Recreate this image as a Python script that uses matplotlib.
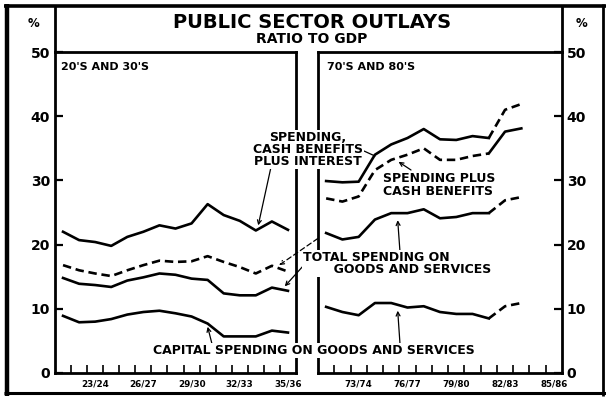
import matplotlib
matplotlib.use('Agg')
import matplotlib.pyplot as plt
from matplotlib.lines import Line2D

plt.rcParams['font.family'] = ['DejaVu Sans']
plt.rcParams['font.weight'] = 'bold'

W, H = 606, 403

# ---------------- data ----------------
left_years = ['21/22', '22/23', '23/24', '24/25', '25/26', '26/27', '27/28', '28/29',
              '29/30', '30/31', '31/32', '32/33', '33/34', '34/35', '35/36']
right_years = ['71/72', '72/73', '73/74', '74/75', '75/76', '76/77', '77/78', '78/79',
               '79/80', '80/81', '81/82', '82/83', '83/84', '84/85', '85/86']
left_tick_labels = ['23/24', '26/27', '29/30', '32/33', '35/36']
right_tick_labels = ['73/74', '76/77', '79/80', '82/83', '85/86']
y_ticks = [0, 10, 20, 30, 40, 50]

# 20's and 30's (% of GDP)
l_spend_cash_int = [22.0, 20.7, 20.4, 19.8, 21.2, 22.0, 23.0, 22.5, 23.3, 26.3, 24.6, 23.7, 22.2, 23.6, 22.3]
l_spend_cash     = [16.8, 16.0, 15.5, 15.1, 16.0, 16.8, 17.5, 17.3, 17.4, 18.2, 17.3, 16.5, 15.5, 16.7, 15.8]
l_total_gs       = [14.8, 13.9, 13.7, 13.4, 14.4, 14.9, 15.5, 15.3, 14.7, 14.5, 12.4, 12.1, 12.1, 13.3, 12.8]
l_capital        = [8.9, 7.9, 8.0, 8.4, 9.1, 9.5, 9.7, 9.3, 8.8, 7.7, 5.7, 5.7, 5.7, 6.6, 6.3]

# 70's and 80's: 71/72 .. 83/84 (last two are projections)
r_spend_cash_int = [29.9, 29.7, 29.8, 34.0, 35.6, 36.6, 38.0, 36.4, 36.3, 36.9, 36.6, 41.0, 41.9]
r_spend_cash     = [27.2, 26.7, 27.5, 31.6, 33.2, 34.0, 35.0, 33.2, 33.2, 33.8, 34.2, 37.6, 38.1]
r_total_gs       = [21.8, 20.8, 21.2, 23.9, 24.9, 24.9, 25.5, 24.1, 24.3, 24.9, 24.9, 26.9, 27.4]
r_capital        = [10.3, 9.5, 9.0, 10.9, 10.9, 10.2, 10.4, 9.5, 9.2, 9.2, 8.5, 10.4, 10.9]
n_actual = 11  # 71/72 .. 81/82 are actual

# ---------------- helpers ----------------
def fx(x):
    return x / W

def fy(y):
    return 1 - y / H

fig = plt.figure(figsize=(W / 100, H / 100), dpi=100)
fig.patch.set_facecolor('white')

LW = 1.9
DASH = (3.2, 1.8)

axL = fig.add_axes([fx(55), fy(373), (296 - 55) / W, (373 - 52) / H])
axR = fig.add_axes([fx(318), fy(373), (562 - 318) / W, (373 - 52) / H])

for ax, years, labels in ((axL, left_years, left_tick_labels), (axR, right_years, right_tick_labels)):
    ax.set_xlim(-0.5, len(years) - 0.5)
    ax.set_ylim(0, 50)
    for s in ax.spines.values():
        s.set_linewidth(2.0)
        s.set_color('black')
    ax.set_xticks([years.index(l) for l in labels])
    ax.set_xticklabels(labels, fontsize=6.3, fontweight='bold')
    ax.set_xticks([i + 0.5 for i in range(len(years) - 1)], minor=True)
    ax.tick_params(axis='x', which='major', length=0, pad=4.5)
    ax.tick_params(axis='x', which='minor', direction='in', length=5.5, width=1.2)
    ax.set_yticks(y_ticks)
    ax.set_yticklabels([str(v) for v in y_ticks], fontsize=10, fontweight='bold')
    ax.tick_params(axis='y', direction='in', length=6, width=1.6, pad=3.5)

axL.tick_params(axis='y', left=True, right=False, labelleft=True, labelright=False)
axR.tick_params(axis='y', left=False, right=True, labelleft=False, labelright=True)

# left panel lines
xl = list(range(len(left_years)))
axL.plot(xl, l_spend_cash_int, color='black', lw=LW, solid_joinstyle='round')
axL.plot(xl, l_spend_cash, color='black', lw=LW, dashes=DASH)
axL.plot(xl, l_total_gs, color='black', lw=LW, solid_joinstyle='round')
axL.plot(xl, l_capital, color='black', lw=LW, solid_joinstyle='round')

# right panel lines
xr = list(range(len(r_capital)))
a, b = xr[:n_actual], xr[n_actual - 1:]
axR.plot(a, r_spend_cash_int[:n_actual], color='black', lw=LW)
axR.plot(b, r_spend_cash_int[n_actual - 1:], color='black', lw=LW, dashes=DASH)
axR.plot(a, r_spend_cash[:n_actual], color='black', lw=LW, dashes=DASH)
axR.plot(b, r_spend_cash[n_actual - 1:], color='black', lw=LW)
axR.plot(a, r_total_gs[:n_actual], color='black', lw=LW)
axR.plot(b, r_total_gs[n_actual - 1:], color='black', lw=LW, dashes=DASH)
axR.plot(a, r_capital[:n_actual], color='black', lw=LW)
axR.plot(b, r_capital[n_actual - 1:], color='black', lw=LW, dashes=DASH)

# ---------------- frame ----------------
def pline(x0, y0, x1, y1, lw, **kw):
    fig.add_artist(Line2D([fx(x0), fx(x1)], [fy(y0), fy(y1)], transform=fig.transFigure,
                          color='black', lw=lw, solid_capstyle='butt', **kw))

pline(4, 6, 606, 6, 2.6)       # top
pline(6.5, 4, 6.5, 396, 3.2)   # left
pline(4, 393, 606, 393, 2.2)   # bottom
pline(603, 4, 603, 396, 2.0)   # right
pline(55, 6, 55, 53, 2.0)      # title box left
pline(562, 6, 562, 53, 2.0)    # title box right

# ---------------- texts ----------------
WHITE = dict(facecolor='white', edgecolor='none', pad=0.6)

def ftext(x, y, s, size, ha='left', va='baseline', box=False, **kw):
    if box:
        kw['bbox'] = WHITE
    fig.text(fx(x), fy(y), s, fontsize=size, fontweight='bold', ha=ha, va=va, **kw)

ftext(312, 28, 'PUBLIC SECTOR OUTLAYS', 14, ha='center')
ftext(312, 43, 'RATIO TO GDP', 10, ha='center')
ftext(33, 27, '%', 8.5, ha='center')
ftext(582, 27, '%', 8.5, ha='center')
ftext(61, 70, "20'S AND 30'S", 8)
ftext(327, 70, "70'S AND 80'S", 8)

ftext(308, 165, 'SPENDING,\nCASH BENEFITS\nPLUS INTEREST', 9, ha='center',
      multialignment='center', linespacing=0.92, box=True)
ftext(383, 195, 'SPENDING PLUS\nCASH BENEFITS', 9, linespacing=1.02, box=True)
ftext(303, 273, 'TOTAL SPENDING ON\n       GOODS AND SERVICES', 9, linespacing=0.92, box=True)
ftext(314, 354, 'CAPITAL SPENDING ON GOODS AND SERVICES', 9, ha='center', box=True)

# ---------------- leaders / arrows ----------------
def arrow(ax, xy, x, y, style='->', ls='-', lw=0.9):
    ax.annotate('', xy=xy, xycoords='data', xytext=(fx(x), fy(y)), textcoords='figure fraction',
                arrowprops=dict(arrowstyle=style, lw=lw, color='black', ls=ls,
                                shrinkA=0, shrinkB=0, mutation_scale=7),
                annotation_clip=False)

arrow(axL, (12.15, l_spend_cash_int[12] + 0.8), 271, 167)
arrow(axR, (3.0, r_spend_cash_int[3] - 0.2), 364, 151, style='-')
arrow(axR, (4.45, r_spend_cash[4] - 0.3), 411, 170)
arrow(axL, (13.45, l_spend_cash[13] + 0.1), 378, 197, ls=(0, (4, 2.5)))
arrow(axR, (4.4, r_total_gs[4] - 1.1), 400, 252)
arrow(axL, (13.8, l_total_gs[13] + 0.2), 304, 265)
arrow(axL, (9.0, l_capital[9] - 0.5), 212, 344)
arrow(axR, (4.4, r_capital[4] - 1.2), 400, 344)

fig.savefig('out.png', dpi=100, facecolor='white')
